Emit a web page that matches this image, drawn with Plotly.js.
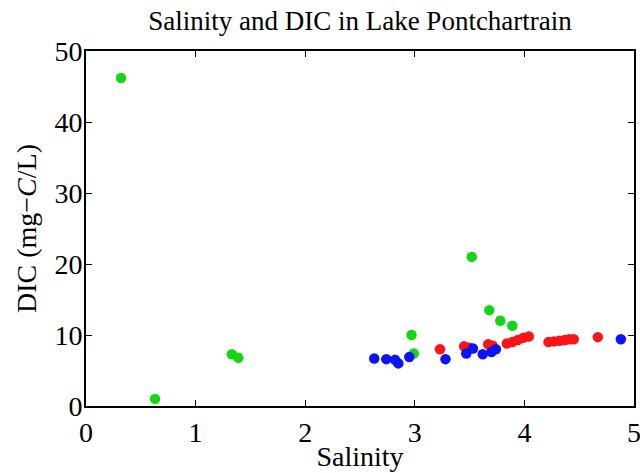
<!DOCTYPE html>
<html>
<head>
<meta charset="utf-8">
<script src="https://cdn.plot.ly/plotly-3.0.1.min.js"></script>
<style>html,body{margin:0;padding:0;background:#fff;}#chart{width:640px;height:473px;}</style>
</head>
<body>
<div id="chart"></div>
<script>
// Green series
const greenX = [0.32, 0.63, 1.33, 1.39, 2.97, 2.99, 3.52, 3.68, 3.78, 3.89];
const greenY = [46.2, 1.0, 7.3, 6.8, 10.0, 7.4, 21.0, 13.5, 12.0, 11.3];
// Blue series
const blueX = [2.63, 2.74, 2.82, 2.85, 2.95, 3.28, 3.47, 3.53, 3.62, 3.70, 3.74, 4.88];
const blueY = [6.7, 6.6, 6.5, 6.0, 6.9, 6.6, 7.4, 8.1, 7.3, 7.6, 8.0, 9.4];
// Red series
const redX = [3.23, 3.45, 3.50, 3.67, 3.71, 3.84, 3.89, 3.94, 3.99, 4.04, 4.22, 4.27, 4.32, 4.37, 4.41, 4.45, 4.67];
const redY = [8.0, 8.4, 8.2, 8.7, 8.5, 8.8, 9.0, 9.3, 9.6, 9.8, 9.0, 9.1, 9.2, 9.3, 9.4, 9.4, 9.7];

const xTicks = [0, 1, 2, 3, 4, 5];
const yTicks = [0, 10, 20, 30, 40, 50];

const mk = (x, y, color) => ({
  x: x, y: y, type: 'scatter', mode: 'markers',
  marker: {color: color, size: 10.5, line: {width: 0}},
  cliponaxis: false, showlegend: false, hoverinfo: 'skip'
});

const data = [
  mk(greenX, greenY, 'rgb(20,215,20)'),
  mk(redX, redY, 'rgb(250,20,20)'),
  mk(blueX, blueY, 'rgb(10,20,245)')
];

const font = 'Liberation Serif';
const axisCommon = {
  showgrid: false, zeroline: false,
  showline: true, linecolor: '#000', linewidth: 2, mirror: 'allticks',
  ticks: 'inside', ticklen: 6, tickwidth: 1, tickcolor: '#000',
  tickfont: {family: font, size: 28, color: '#000'},
  ticklabeloverflow: 'allow',
  fixedrange: true
};

const layout = {
  width: 640, height: 473,
  font: {family: font, color: '#000'},
  margin: {l: 86, r: 6, t: 51, b: 67},
  paper_bgcolor: '#fff', plot_bgcolor: '#fff',
  title: {text: 'Salinity and DIC in Lake Pontchartrain', font: {family: font, size: 27, color: '#000'},
          x: 0.5, xanchor: 'center', xref: 'paper', y: 0.957, yanchor: 'middle'},
  xaxis: Object.assign({}, axisCommon, {
    range: [0, 5], tickvals: xTicks, ticktext: xTicks.map(String),
    title: {text: 'Salinity', font: {family: font, size: 28, color: '#000'}, standoff: 0}
  }),
  yaxis: Object.assign({}, axisCommon, {
    range: [0, 50], tickvals: yTicks, ticktext: yTicks.map(String),
    ticklabelstandoff: -4,
    title: {text: 'DIC (mg\u2212<i>C</i>/L)', font: {family: font, size: 28, color: '#000'}, standoff: 10}
  })
};

Plotly.newPlot('chart', data, layout, {staticPlot: true, displayModeBar: false});
</script>
</body>
</html>
